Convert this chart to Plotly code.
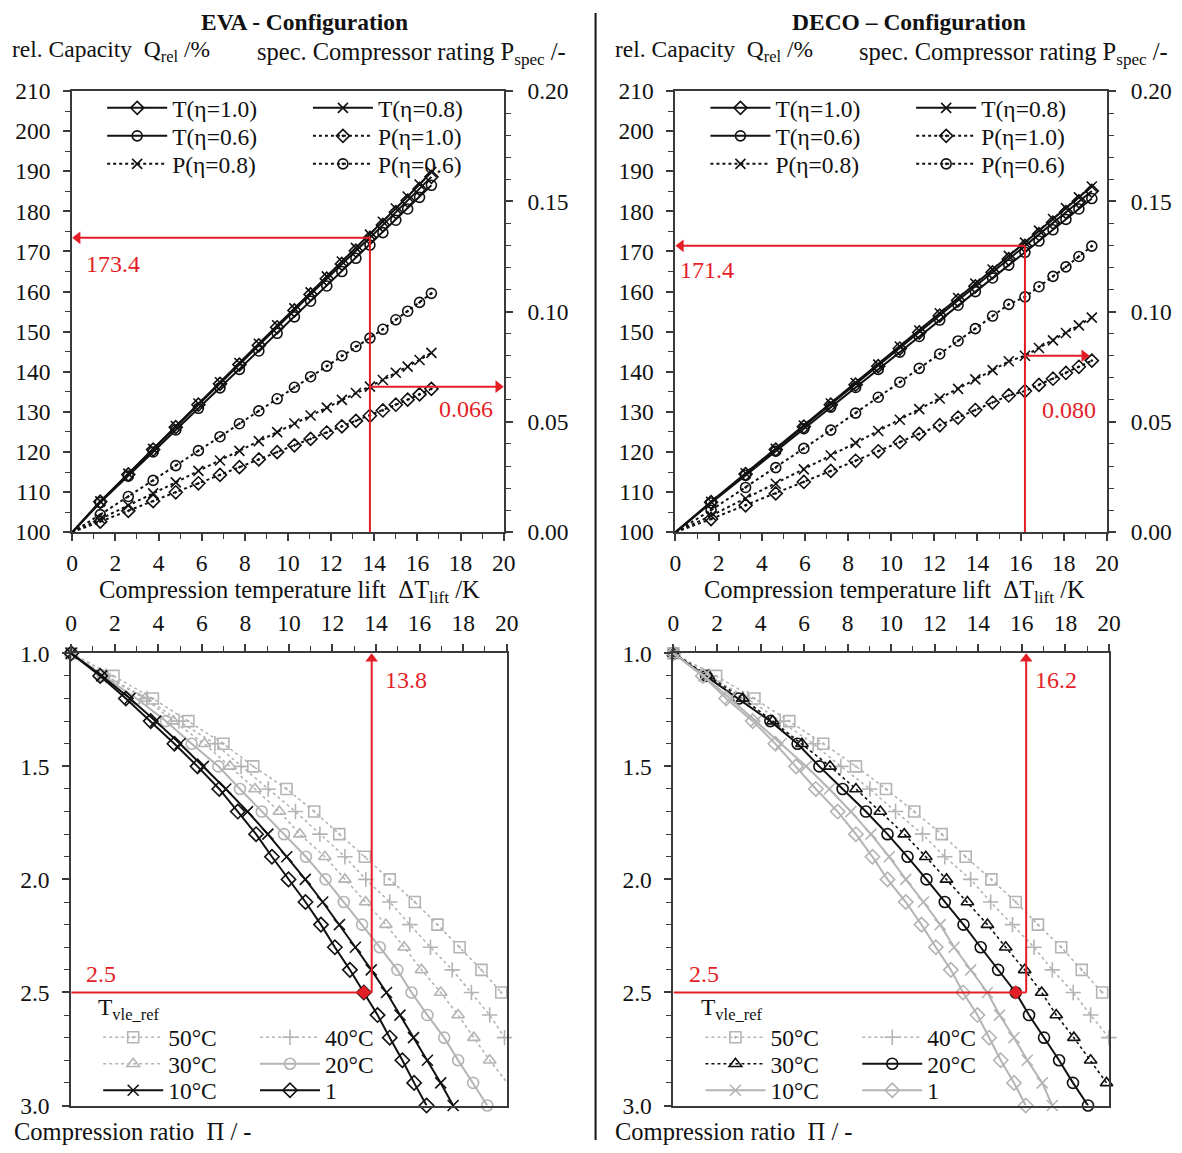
import plotly.graph_objects as go

W, H = 1182, 1153
# the photographed page appears shifted / slightly scaled; positions below are given in
# reference-picture pixels and converted to paper coordinates here
CX, CY = 5.7, 13.0
SX, SY = 0.986, 0.977


def pgx(x):
    return (x - CX) / SX


def pgy(y):
    return (y - CY) / SY


def px(x):
    return min(max(pgx(x) / W, 0.0), 1.0)


def py(y):
    return min(max(1 - pgy(y) / H, 0.0), 1.0)


FONT = "Liberation Serif"
BLACK = "#111111"
GRAY = "#b4b4b4"
RED = "#e41e26"
AXC = "#3a3a3a"

# ---------------- data ----------------
# top plots: compression temperature lift (K)
eva_dt = [0, 1.3, 2.6, 3.75, 4.8, 5.85, 6.85, 7.75, 8.65, 9.5, 10.3, 11.05, 11.8, 12.5, 13.15,
          13.8, 14.4, 15.0, 15.55, 16.1, 16.65]
eva_T10 = [100, 107.6, 114.4, 120.6, 126.2, 131.8, 137.0, 141.8, 146.6, 151.1, 155.3, 159.3, 163.2,
           166.9, 170.2, 173.4, 176.6, 179.8, 182.7, 185.6, 188.6]
eva_T08 = [100, 107.7, 114.6, 120.8, 126.5, 132.1, 137.4, 142.2, 147.0, 151.6, 155.8, 159.8, 163.8,
           167.5, 170.9, 174.2, 177.4, 180.7, 183.7, 186.7, 189.8]
eva_T06 = [100, 107.4, 114.0, 120.0, 125.5, 130.9, 136.0, 140.6, 145.2, 149.6, 153.7, 157.6, 161.4,
           165.0, 168.3, 171.6, 174.7, 177.8, 180.6, 183.5, 186.5]
eva_P10 = [0, 0.0048, 0.0097, 0.0141, 0.0181, 0.0222, 0.0260, 0.0295, 0.0330, 0.0363, 0.0394, 0.0423,
           0.0452, 0.0480, 0.0505, 0.0528, 0.0552, 0.0578, 0.0601, 0.0625, 0.0650]
eva_P08 = [0, 0.0060, 0.0121, 0.0176, 0.0226, 0.0278, 0.0325, 0.0369, 0.0413, 0.0454, 0.0493, 0.0529,
           0.0565, 0.0600, 0.0631, 0.0660, 0.0690, 0.0723, 0.0751, 0.0781, 0.0813]
eva_P06 = [0, 0.0080, 0.0162, 0.0235, 0.0302, 0.0370, 0.0433, 0.0492, 0.0550, 0.0605, 0.0657, 0.0705,
           0.0753, 0.0800, 0.0842, 0.0880, 0.0920, 0.0963, 0.1002, 0.1042, 0.1083]

deco_dt = [0, 1.65, 3.25, 4.65, 5.95, 7.2, 8.35, 9.4, 10.4, 11.3, 12.25, 13.1, 13.9, 14.7, 15.45,
           16.2, 16.85, 17.5, 18.1, 18.7, 19.3]
deco_T10 = [100, 107.5, 114.5, 120.6, 126.3, 131.8, 136.8, 141.4, 145.8, 149.8, 154.0, 157.8, 161.3,
            164.8, 168.1, 171.4, 174.3, 177.2, 179.8, 182.5, 185.1]
deco_T08 = [100, 107.6, 114.7, 120.8, 126.6, 132.1, 137.2, 141.8, 146.3, 150.3, 154.6, 158.4, 162.0,
            165.5, 168.9, 172.2, 175.2, 178.1, 180.8, 183.5, 186.2]
deco_T06 = [100, 107.3, 114.2, 120.2, 125.8, 131.2, 136.1, 140.6, 144.9, 148.8, 152.9, 156.6, 160.0,
            163.4, 166.6, 169.8, 172.6, 175.4, 178.0, 180.6, 183.2]
deco_P10 = [0, 0.0060, 0.0122, 0.0176, 0.0228, 0.0278, 0.0324, 0.0367, 0.0408, 0.0446, 0.0485, 0.0520,
            0.0554, 0.0588, 0.0620, 0.0640, 0.0668, 0.0696, 0.0722, 0.0750, 0.0778]
deco_P08 = [0, 0.0075, 0.0153, 0.0220, 0.0285, 0.0348, 0.0405, 0.0459, 0.0510, 0.0558, 0.0606, 0.0650,
            0.0693, 0.0735, 0.0775, 0.0800, 0.0835, 0.0870, 0.0903, 0.0938, 0.0973]
deco_P06 = [0, 0.0100, 0.0203, 0.0293, 0.0380, 0.0463, 0.0540, 0.0612, 0.0680, 0.0743, 0.0808, 0.0867,
            0.0923, 0.0980, 0.1033, 0.1067, 0.1113, 0.1160, 0.1203, 0.1250, 0.1297]

# bottom plots: compression ratio vs temperature lift
pi_vals = [1.0, 1.1, 1.2, 1.3, 1.4, 1.5, 1.6, 1.7, 1.8, 1.9, 2.0, 2.1, 2.2, 2.3, 2.4, 2.5,
           2.6, 2.7, 2.8, 2.9, 3.0]
eva_r50 = [0, 1.94, 3.75, 5.38, 6.99, 8.36, 9.89, 11.16, 12.31, 13.49, 14.63, 15.78, 16.82, 17.84,
           18.84, 19.75, None, None, None, None, None]
eva_r40 = [0, 1.6, 3.47, 4.95, 6.6, 7.8, 9.05, 10.3, 11.42, 12.57, 13.53, 14.63, 15.55, 16.5, 17.5,
           18.38, 19.22, 19.9, None, None, None]
eva_r30 = [0, 1.5, 3.39, 4.69, 6.12, 7.29, 8.44, 9.56, 10.5, 11.65, 12.57, 13.52, 14.45, 15.29, 16.09,
           16.97, 17.77, 18.49, 19.22, 20.03, None]
eva_r20 = [0, 1.45, 3.0, 4.35, 5.53, 6.76, 7.75, 8.75, 9.77, 10.78, 11.68, 12.52, 13.36, 14.17, 14.98,
           15.63, 16.36, 17.13, 17.77, 18.46, 19.11]
eva_r10 = [0, 1.4, 2.7, 3.88, 5.0, 6.07, 7.1, 8.1, 9.03, 9.9, 10.75, 11.55, 12.32, 13.05, 13.78,
           14.48, 15.1, 15.72, 16.36, 16.97, 17.54]
eva_r1 = [0, 1.33, 2.51, 3.65, 4.74, 5.8, 6.8, 7.65, 8.49, 9.22, 9.98, 10.76, 11.47, 12.11, 12.8,
          13.44, 14.07, 14.63, 15.21, 15.75, 16.32]

deco_r50 = [0, 1.96, 3.72, 5.32, 6.88, 8.38, 9.76, 11.06, 12.32, 13.42, 14.6, 15.72, 16.74, 17.81,
            18.75, 19.69, None, None, None, None, None]
deco_r40 = [0, 1.65, 3.4, 4.9, 6.42, 7.69, 9.02, 10.2, 11.44, 12.46, 13.65, 14.57, 15.57, 16.56, 17.4,
            18.36, 19.16, 20.0, None, None, None]
deco_r30 = [0, 1.6, 3.18, 4.56, 5.9, 7.19, 8.38, 9.5, 10.6, 11.59, 12.54, 13.5, 14.42, 15.26, 16.13,
            16.91, 17.58, 18.39, 19.16, 19.89, None]
deco_r20 = [0, 1.5, 3.0, 4.45, 5.7, 6.7, 7.77, 8.84, 9.83, 10.75, 11.62, 12.46, 13.32, 14.11, 14.91,
            15.72, 16.33, 17.02, 17.71, 18.35, 19.04]
deco_r10 = [0, 1.4, 2.6, 3.79, 4.94, 6.09, 7.16, 8.15, 9.07, 9.91, 10.67, 11.48, 12.25, 12.89, 13.65,
            14.42, 14.98, 15.64, 16.25, 16.94, 17.4]
deco_r1 = [0, 1.35, 2.42, 3.64, 4.68, 5.63, 6.54, 7.54, 8.38, 9.14, 9.83, 10.67, 11.39, 12.05, 12.74,
           13.3, 13.96, 14.5, 15.03, 15.64, 16.18]

# design point annotations
eva_lift, eva_q, eva_p = 13.8, 173.4, 0.066
deco_lift, deco_q, deco_p = 16.2, 171.4, 0.080
deco_p_arrow_end = 19.2
pi_design = 2.5
design_idx = 15

top_names = ["T(η=1.0)", "T(η=0.8)", "T(η=0.6)", "P(η=1.0)", "P(η=0.8)", "P(η=0.6)"]
bot_names = ["50°C", "40°C", "30°C", "20°C", "10°C", "1"]

# ---------------- figure ----------------
fig = go.Figure()
legends = {}
leg_counter = [0]
LEG_FONT = 23.5


def new_legend(x_px, y_px, size):
    leg_counter[0] += 1
    n = leg_counter[0]
    key = "legend" if n == 1 else f"legend{n}"
    legends[key] = dict(x=px(x_px), y=py(y_px), xanchor="left", yanchor="middle", xref="paper", yref="paper",
                        bgcolor="rgba(0,0,0,0)", orientation="v", itemwidth=60,
                        font=dict(family=FONT, size=size, color="#111111"),
                        itemclick=False, itemdoubleclick=False)
    return key


def add_top(xv, Ts, Ps, xa, ya, ya2, leg_x0):
    syms = ["diamond-open", "x-thin-open", "circle-open", "diamond-open-dot", "x-thin-open", "circle-open-dot"]
    series = [(T, ya, "solid") for T in Ts] + [(P, ya2, "dot") for P in Ps]
    for i, (s, yax, dash) in enumerate(series):
        row, col = divmod(i, 2)
        lg = new_legend(leg_x0 + 206 * col, 108 + 28 * row, LEG_FONT)
        line = dict(color=BLACK, width=2, dash=dash)
        # first segment from the origin (no marker at the origin)
        fig.add_trace(go.Scatter(x=xv[:2], y=s[:2], xaxis=xa, yaxis=yax, mode="lines", line=line,
                                 showlegend=False, hoverinfo="skip"))
        fig.add_trace(go.Scatter(
            x=xv[1:], y=s[1:], xaxis=xa, yaxis=yax, name=top_names[i], legend=lg,
            mode="lines+markers", line=line,
            marker=dict(symbol=syms[i], size=10, color=BLACK, line=dict(color=BLACK, width=1.6))))


add_top(eva_dt, [eva_T10, eva_T08, eva_T06], [eva_P10, eva_P08, eva_P06], "x", "y", "y2", 102)
add_top(deco_dt, [deco_T10, deco_T08, deco_T06], [deco_P10, deco_P08, deco_P06], "x2", "y3", "y4", 706)


def add_bottom(series, styles, xa, ya, leg_x0):
    syms = ["square-open-dot", "cross-thin-open", "triangle-up-open", "circle-open", "x-thin-open", "diamond-open"]
    for i, s in enumerate(series):
        col, dash = styles[i]
        row, c = divmod(i, 2)
        lg = new_legend(leg_x0 + 157 * c, 1037 + 26.5 * row, LEG_FONT)
        fig.add_trace(go.Scatter(
            x=s, y=pi_vals, xaxis=xa, yaxis=ya, name=bot_names[i], legend=lg,
            mode="lines+markers", cliponaxis=False,
            line=dict(color=col, width=2 if dash == "solid" else 1.6, dash=dash),
            marker=dict(symbol=syms[i], size=11, color=col, line=dict(color=col, width=1.6))))


add_bottom([eva_r50, eva_r40, eva_r30, eva_r20, eva_r10, eva_r1],
           [(GRAY, "dot"), (GRAY, "dot"), (GRAY, "dot"), (GRAY, "solid"), (BLACK, "solid"), (BLACK, "solid")],
           "x3", "y5", 98)
add_bottom([deco_r50, deco_r40, deco_r30, deco_r20, deco_r10, deco_r1],
           [(GRAY, "dot"), (GRAY, "dot"), (BLACK, "dot"), (BLACK, "solid"), (GRAY, "solid"), (GRAY, "solid")],
           "x4", "y6", 701)

# red design points in bottom plots
fig.add_trace(go.Scatter(x=[eva_r1[design_idx]], y=[pi_vals[design_idx]], xaxis="x3", yaxis="y5",
                         mode="markers", showlegend=False, cliponaxis=False,
                         marker=dict(symbol="diamond", size=11, color=RED)))
fig.add_trace(go.Scatter(x=[deco_r20[design_idx]], y=[pi_vals[design_idx]], xaxis="x4", yaxis="y6",
                         mode="markers", showlegend=False, cliponaxis=False,
                         marker=dict(symbol="diamond", size=11, color=RED)))

# ---------------- axes ----------------
tf = dict(family=FONT, size=23.5, color="#111111")
common = dict(showline=True, linewidth=2, linecolor=AXC, mirror=True, showgrid=False, zeroline=False,
              ticks="outside", tickwidth=1.5, tickcolor=AXC, ticklen=7, tickfont=tf)
minor_kw = dict(ticks="outside", ticklen=5, tickcolor=AXC, tickwidth=1.2)


def xtop(domain, anchor):
    return dict(common, domain=domain, anchor=anchor, range=[0, 20], dtick=2, tick0=0,
                minor=dict(minor_kw, dtick=1), ticklabelstandoff=2)


def yleft(domain, anchor):
    return dict(common, domain=domain, anchor=anchor, range=[100, 210], dtick=10, tick0=100,
                minor=dict(minor_kw, dtick=5), ticklabelstandoff=8)


def yright(overl, anchor):
    return dict(common, overlaying=overl, anchor=anchor, side="right", range=[0, 0.2], dtick=0.05, tick0=0,
                tickformat=".2f", mirror=False, minor=dict(minor_kw, dtick=0.01), ticklabelstandoff=10)


def xbot(domain, anchor):
    return dict(common, domain=domain, anchor=anchor, side="top", range=[0, 20], dtick=2, tick0=0,
                minor=dict(minor_kw, dtick=1), ticklabelstandoff=4)


def ybot(domain, anchor):
    return dict(common, domain=domain, anchor=anchor, range=[3.0, 1.0], dtick=0.5, tick0=1.0,
                tickformat=".1f", minor=dict(minor_kw, dtick=0.1), ticklabelstandoff=8)


TOP_Y = (91, 532)
BOT_Y = (653, 1105)
TOP_L = (72, 504)
TOP_R = (676, 1108)
BOT_L = (71, 507)
BOT_R = (674, 1110)


def dom_x(r):
    return [px(r[0]), px(r[1])]


def dom_y(r):
    return [py(r[1]), py(r[0])]


fig.update_layout(
    xaxis=xtop(dom_x(TOP_L), "y"),
    yaxis=yleft(dom_y(TOP_Y), "x"),
    yaxis2=yright("y", "x"),
    xaxis2=xtop(dom_x(TOP_R), "y3"),
    yaxis3=yleft(dom_y(TOP_Y), "x2"),
    yaxis4=yright("y3", "x2"),
    xaxis3=xbot(dom_x(BOT_L), "y5"),
    yaxis5=ybot(dom_y(BOT_Y), "x3"),
    xaxis4=xbot(dom_x(BOT_R), "y6"),
    yaxis6=ybot(dom_y(BOT_Y), "x4"),
)
fig.update_layout(**legends)

# ---------------- red markers / annotations ----------------
shapes = []
annos = []
HEAD = 11  # arrow head marker size (px)
red_line = dict(color=RED, width=2)
RED_FONT = dict(family=FONT, size=24, color=RED)


def head(xa, ya, x, y, sym):
    fig.add_trace(go.Scatter(x=[x], y=[y], xaxis=xa, yaxis=ya, mode="markers", showlegend=False,
                             cliponaxis=False, hoverinfo="skip",
                             marker=dict(symbol=sym, size=HEAD, color=RED, line=dict(width=0))))


def red_top(xa, ya, ya2, xr, lift, q, p, p_end, qtxt_x, qtxt_y, ptxt_x, ptxt_y, qtxt, ptxt):
    unit = 20 / (pgx(xr[1]) - pgx(xr[0]))  # data units per page pixel
    off = unit * HEAD / 2
    shapes.append(dict(type="line", xref=xa, yref=ya, x0=lift, x1=lift, y0=100, y1=q, line=red_line))
    shapes.append(dict(type="line", xref=xa, yref=ya, x0=off, x1=lift, y0=q, y1=q, line=red_line))
    head(xa, ya, off, q, "triangle-left")
    shapes.append(dict(type="line", xref=xa, yref=ya2, x0=lift, x1=p_end - off, y0=p, y1=p, line=red_line))
    head(xa, ya2, p_end - off, p, "triangle-right")
    annos.append(dict(xref=xa, yref=ya, x=qtxt_x, y=qtxt_y, text=qtxt, showarrow=False,
                      xanchor="left", font=RED_FONT))
    annos.append(dict(xref=xa, yref=ya, x=ptxt_x, y=ptxt_y, text=ptxt, showarrow=False,
                      xanchor="right", font=RED_FONT))


red_top("x", "y", "y2", TOP_L, eva_lift, eva_q, eva_p, 20, 0.55, 167, 19.6, 130.8, f"{eva_q:.1f}", f"{eva_p:.3f}")
red_top("x2", "y3", "y4", TOP_R, deco_lift, deco_q, deco_p, deco_p_arrow_end, 0.1, 165.4, 19.6, 130.4,
        f"{deco_q:.1f}", f"{deco_p:.3f}")


def red_bot(xa, ya, lift, txt_x):
    unit = 2.0 / (pgy(BOT_Y[1]) - pgy(BOT_Y[0]))
    off = unit * HEAD / 2
    shapes.append(dict(type="line", xref=xa, yref=ya, x0=0, x1=lift, y0=pi_design, y1=pi_design, line=red_line))
    shapes.append(dict(type="line", xref=xa, yref=ya, x0=lift, x1=lift, y0=pi_design, y1=1.0 + off, line=red_line))
    head(xa, ya, lift, 1.0 + off, "triangle-up")
    annos.append(dict(xref=xa, yref=ya, x=txt_x, y=1.12, text=f"{lift:.1f}", showarrow=False,
                      xanchor="left", font=RED_FONT))
    annos.append(dict(xref=xa, yref=ya, x=0.6, y=2.42, text=f"{pi_design:.1f}", showarrow=False,
                      xanchor="left", font=RED_FONT))


red_bot("x3", "y5", eva_lift, 14.3)
red_bot("x4", "y6", deco_lift, 16.5)

# separator line
shapes.append(dict(type="line", xref="paper", yref="paper", x0=px(596), x1=px(596), y0=0, y1=py(5),
                   line=dict(color="#111111", width=2)))


# ---------------- titles / axis labels ----------------
def txt(x, y, t, anchor="left", size=24, bold=False, yanchor="middle", page_y=None):
    if bold:
        t = "<b>" + t + "</b>"
    yy = py(y) if page_y is None else 1 - page_y / H
    annos.append(dict(xref="paper", yref="paper", x=px(x), y=yy, text=t, showarrow=False,
                      xanchor=anchor, yanchor=yanchor, font=dict(family=FONT, size=size, color="#111111")))


# titles sit at the very top: the empty ascender band of the text box may extend above the page
txt(305, 0, "EVA - Configuration", "center", 23.5, True, "top", page_y=-6)
txt(910, 0, "DECO – Configuration", "center", 23.5, True, "top", page_y=-6)
txt(10, 51, "rel. Capacity  Q<sub>rel</sub> /%", size=23.5)
txt(568, 53, "spec. Compressor rating P<sub>spec</sub> /-", "right", 24.5)
txt(613, 51, "rel. Capacity  Q<sub>rel</sub> /%", size=23.5)
txt(1172, 53, "spec. Compressor rating P<sub>spec</sub> /-", "right", 24.5)
txt(290, 591, "Compression temperature lift  ΔT<sub>lift</sub> /K", "center", 24.5)
txt(895, 591, "Compression temperature lift  ΔT<sub>lift</sub> /K", "center", 24.5)
# bottom labels: the empty descender band may extend below the page
txt(12, 0, "Compression ratio  Π / -", "left", 24.5, False, "bottom", page_y=H + 7)
txt(613, 0, "Compression ratio  Π / -", "left", 24.5, False, "bottom", page_y=H + 7)
txt(96, 1009, "T<sub>vle_ref</sub>", "left", 23.5)
txt(700, 1009, "T<sub>vle_ref</sub>", "left", 23.5)

fig.update_layout(
    width=W, height=H, margin=dict(l=0, r=0, t=0, b=0),
    paper_bgcolor="white", plot_bgcolor="white",
    font=dict(family=FONT, size=23, color="#111111"),
    shapes=shapes, annotations=annos, showlegend=True,
)

post = (
    "var s=document.documentElement.style;s.margin='0';s.padding='0';s.overflow='hidden';"
    "var b=document.body.style;b.margin='0';b.padding='0';b.overflow='hidden';"
)
fig.write_html("out.html", config={"displayModeBar": False}, post_script=post)
